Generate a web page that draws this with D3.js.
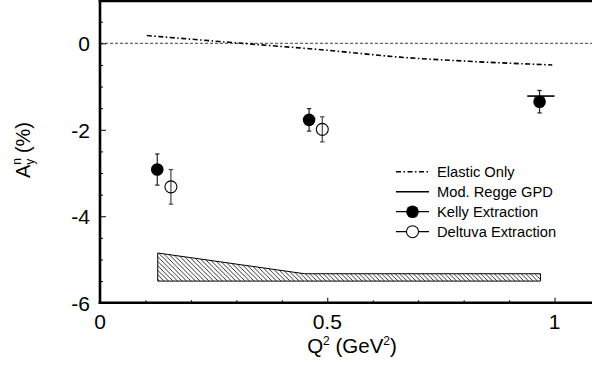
<!DOCTYPE html>
<html>
<head>
<meta charset="utf-8">
<script src="https://cdn.jsdelivr.net/npm/d3@7"></script>
<style>
  html, body { margin: 0; padding: 0; background: #fff; }
  svg { display: block; font-family: "Liberation Sans", Arial, Helvetica, sans-serif; }
</style>
</head>
<body>
<svg id="chart" width="592" height="371"></svg>
<script>
// Neutron target single-spin asymmetry A_y^n versus Q^2
const kellyQ2   = [0.126, 0.460, 0.967];
const kellyAy   = [-2.92, -1.77, -1.35];
const kellyErr  = [0.36, 0.26, 0.26];

const deltuvaQ2  = [0.156, 0.489];
const deltuvaAy  = [-3.32, -1.99];
const deltuvaErr = [0.40, 0.29];

// Elastic-only calculation (dash-dot curve)
const elasticQ2 = [0.103, 0.30, 0.50, 0.66, 0.81, 0.995];
const elasticAy = [0.18, 0.01, -0.16, -0.32, -0.415, -0.50];

// Modified Regge GPD calculation (short segment near Q^2 = 1)
const reggeQ2 = [0.94, 1.0];
const reggeAy = [-1.22, -1.22];

// Systematic uncertainty band: baseline and upper edge
const systQ2   = [0.127, 0.45, 0.969];
const systBase = -5.5;
const systTop  = [-4.85, -5.33, -5.33];

const xTicksMajor = [0, 0.5, 1];
const xTickLabels = ["0", "0.5", "1"];
const yTicksMajor = [0, -2, -4, -6];
const yTickLabels = ["0", "-2", "-4", "-6"];

const legendLabels = ["Elastic Only", "Mod. Regge GPD", "Kelly Extraction", "Deltuva Extraction"];

const svg = d3.select("#chart");
const x = d3.scaleLinear().domain([0, 1.1]).range([100, 600]);
const y = d3.scaleLinear().domain([-6, 1]).range([302.7, 0.1]);

// hatch pattern for the systematic band
const defs = svg.append("defs");
const pat = defs.append("pattern")
  .attr("id", "hatch").attr("patternUnits", "userSpaceOnUse")
  .attr("width", 4.5).attr("height", 4.5);
pat.append("path").attr("d", "M-1,-1 L5.5,5.5 M-1,3.5 L1,5.5 M3.5,-1 L5.5,1")
  .attr("stroke", "#000").attr("stroke-width", 0.8);

// zero reference line
svg.append("line")
  .attr("x1", x(0)).attr("x2", x(1.1)).attr("y1", y(0)).attr("y2", y(0))
  .attr("stroke", "#666").attr("stroke-width", 1.1).attr("stroke-dasharray", "3,2");

// systematic band
const band = d3.area()
  .x((d, i) => x(systQ2[i]))
  .y0(() => y(systBase))
  .y1((d, i) => y(systTop[i]));
svg.append("path").datum(systQ2)
  .attr("d", band)
  .attr("fill", "url(#hatch)").attr("stroke", "#000").attr("stroke-width", 1);

// elastic-only curve
const line = d3.line().curve(d3.curveMonotoneX);
svg.append("path")
  .attr("d", line(elasticQ2.map((q, i) => [x(q), y(elasticAy[i])])))
  .attr("fill", "none").attr("stroke", "#000").attr("stroke-width", 1.6)
  .attr("stroke-dasharray", "5,2.5,1.5,2.5");

// Regge GPD segment
svg.append("path")
  .attr("d", d3.line()(reggeQ2.map((q, i) => [x(q), y(reggeAy[i])])))
  .attr("fill", "none").attr("stroke", "#000").attr("stroke-width", 1.6);

// error bars with caps
function errorBars(qs, vals, errs, color) {
  const g = svg.append("g").attr("stroke", color).attr("stroke-width", 1.2);
  qs.forEach((q, i) => {
    const cx = x(q), t = y(vals[i] + errs[i]), b = y(vals[i] - errs[i]);
    g.append("line").attr("x1", cx).attr("x2", cx).attr("y1", t).attr("y2", b);
    g.append("line").attr("x1", cx - 2.2).attr("x2", cx + 2.2).attr("y1", t).attr("y2", t);
    g.append("line").attr("x1", cx - 2.2).attr("x2", cx + 2.2).attr("y1", b).attr("y2", b);
  });
}
errorBars(kellyQ2, kellyAy, kellyErr, "#222");
errorBars(deltuvaQ2, deltuvaAy, deltuvaErr, "#444");

svg.append("g").selectAll("circle").data(kellyQ2).join("circle")
  .attr("cx", d => x(d)).attr("cy", (d, i) => y(kellyAy[i])).attr("r", 6.3)
  .attr("fill", "#000");
svg.append("g").selectAll("circle").data(deltuvaQ2).join("circle")
  .attr("cx", d => x(d)).attr("cy", (d, i) => y(deltuvaAy[i])).attr("r", 6)
  .attr("fill", "none").attr("stroke", "#000").attr("stroke-width", 1.1);

// axes frame
const frame = svg.append("g").attr("fill", "none").attr("stroke", "#000");
frame.append("line").attr("x1", x(0)).attr("x2", x(0)).attr("y1", 0).attr("y2", y(-6) + 1.2).attr("stroke-width", 2.6);
frame.append("line").attr("x1", x(0) - 1.3).attr("x2", 600).attr("y1", y(-6)).attr("y2", y(-6)).attr("stroke-width", 2.6);
frame.append("line").attr("x1", x(0) - 1.3).attr("x2", 600).attr("y1", 1).attr("y2", 1).attr("stroke-width", 2.4);

// inward ticks
const xAxis = d3.axisTop(x).tickValues(xTicksMajor).tickSize(5).tickFormat("");
const xMinor = d3.axisTop(x).tickValues(d3.range(0.1, 1.1, 0.1).filter(v => Math.abs(v * 2 - Math.round(v * 2)) > 1e-6)).tickSize(2.5).tickFormat("");
const yAxis = d3.axisRight(y).tickValues(yTicksMajor).tickSize(6).tickFormat("");
const yMinor = d3.axisRight(y).tickValues(d3.range(-5.5, 1, 0.5).filter(v => Math.abs(v / 2 - Math.round(v / 2)) > 1e-6)).tickSize(3).tickFormat("");
[[xAxis, `translate(0,${y(-6)})`], [xMinor, `translate(0,${y(-6)})`],
 [yAxis, `translate(${x(0)},0)`], [yMinor, `translate(${x(0)},0)`]].forEach(([ax, tr]) => {
  const g = svg.append("g").attr("transform", tr).call(ax);
  g.select(".domain").remove();
  g.selectAll("line").attr("stroke", "#000").attr("stroke-width", 1);
});

// tick labels
svg.append("g").selectAll("text").data(xTicksMajor).join("text")
  .attr("x", d => x(d)).attr("y", 329).attr("text-anchor", "middle")
  .attr("font-size", 21).text((d, i) => xTickLabels[i]);
svg.append("g").selectAll("text").data(yTicksMajor).join("text")
  .attr("x", 90).attr("y", d => y(d) + 7.8).attr("text-anchor", "end")
  .attr("font-size", 21).text((d, i) => yTickLabels[i]);

// x-axis title
const xt = svg.append("text").attr("x", 352).attr("y", 353).attr("text-anchor", "middle").attr("font-size", 20.5);
xt.append("tspan").text("Q");
xt.append("tspan").attr("font-size", 12).attr("dy", -8).text("2");
xt.append("tspan").attr("dy", 8).text(" (GeV");
xt.append("tspan").attr("font-size", 12).attr("dy", -8).text("2");
xt.append("tspan").attr("dy", 8).text(")");

// y-axis title
const yt = svg.append("g").attr("transform", "translate(30,150) rotate(-90)")
  .append("text").attr("x", 0).attr("y", 0).attr("text-anchor", "middle").attr("font-size", 20);
yt.append("tspan").text("A");
yt.append("tspan").attr("font-size", 12).attr("dy", -9).text("n");
yt.append("tspan").attr("font-size", 12).attr("dy", 13).attr("dx", -6.7).text("y");
yt.append("tspan").attr("dy", -4).text(" (%)");

// legend
const lg = svg.append("g");
const rowY = i => 171.7 + i * 20;
lg.append("line").attr("x1", 396).attr("x2", 429).attr("y1", rowY(0)).attr("y2", rowY(0))
  .attr("stroke", "#000").attr("stroke-width", 1.6).attr("stroke-dasharray", "5,2.5,1.5,2.5");
lg.append("line").attr("x1", 396).attr("x2", 429).attr("y1", rowY(1)).attr("y2", rowY(1))
  .attr("stroke", "#000").attr("stroke-width", 1.5);
lg.append("line").attr("x1", 396).attr("x2", 429).attr("y1", rowY(2)).attr("y2", rowY(2))
  .attr("stroke", "#000").attr("stroke-width", 1.2);
lg.append("circle").attr("cx", 412.5).attr("cy", rowY(2)).attr("r", 6.3).attr("fill", "#000");
lg.append("line").attr("x1", 396).attr("x2", 429).attr("y1", rowY(3)).attr("y2", rowY(3))
  .attr("stroke", "#000").attr("stroke-width", 1.2);
lg.append("circle").attr("cx", 412.5).attr("cy", rowY(3)).attr("r", 6).attr("fill", "#fff")
  .attr("stroke", "#000").attr("stroke-width", 1.1);
lg.selectAll("text").data(legendLabels).join("text")
  .attr("x", 437).attr("y", (d, i) => rowY(i) + 5).attr("font-size", 14.7).text(d => d);
</script>
</body>
</html>
